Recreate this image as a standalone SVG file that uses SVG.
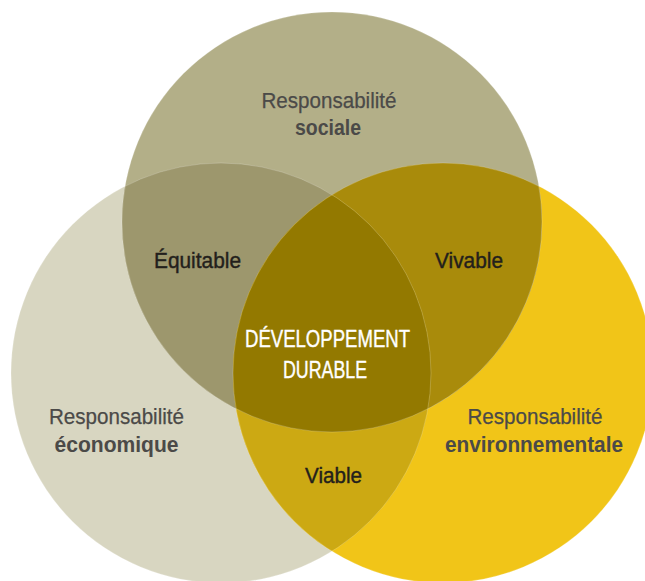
<svg xmlns="http://www.w3.org/2000/svg" width="645" height="581" viewBox="0 0 645 581">
<style>
text{font-family:"Liberation Sans",Arial,sans-serif;text-anchor:middle;}
.lbl{font-size:22px;fill:#4b4a48;stroke:#4b4a48;stroke-width:0.25;}
.b{font-weight:bold;stroke-width:0;}
.mid{font-size:22px;fill:#231f1c;stroke:#231f1c;stroke-width:0.4;}
.ctr{font-size:23px;fill:#ffffff;stroke:#ffffff;stroke-width:0.4;}
.edge{fill:none;stroke:#ffffff;stroke-opacity:0.25;stroke-width:0.8;}
</style>
<defs>
<clipPath id="cT"><circle cx="332" cy="222" r="210"/></clipPath>
<clipPath id="cL"><circle cx="221" cy="373" r="210"/></clipPath>
<clipPath id="cR"><circle cx="443" cy="373" r="210"/></clipPath>
</defs>
<rect width="645" height="581" fill="#ffffff"/>
<g id="economique">
<circle cx="221" cy="373" r="210" fill="#d8d6c1"/>
</g>
<g id="environnementale">
<circle cx="443" cy="373" r="210" fill="#f1c518"/>
</g>
<g id="sociale">
<circle cx="332" cy="222" r="210" fill="#b3af88"/>
</g>
<g id="equitable">
<circle cx="221" cy="373" r="210" fill="#9d976d" clip-path="url(#cT)"/>
</g>
<g id="vivable">
<circle cx="443" cy="373" r="210" fill="#a98b0b" clip-path="url(#cT)"/>
</g>
<g id="viable">
<circle cx="443" cy="373" r="210" fill="#cca913" clip-path="url(#cL)"/>
</g>
<g id="developpement-durable">
<g clip-path="url(#cT)">
<circle cx="443" cy="373" r="210" fill="#937900" clip-path="url(#cL)"/>
</g>
</g>
<g id="edges">
<circle class="edge" cx="332" cy="222" r="210"/>
<circle class="edge" cx="221" cy="373" r="210"/>
<circle class="edge" cx="443" cy="373" r="210"/>
</g>
<g id="labels">
<text class="lbl" x="329" y="108" textLength="135" lengthAdjust="spacingAndGlyphs">Responsabilité</text>
<text class="lbl b" x="328" y="135" textLength="66" lengthAdjust="spacingAndGlyphs">sociale</text>
<text class="lbl" x="116.5" y="424" textLength="135" lengthAdjust="spacingAndGlyphs">Responsabilité</text>
<text class="lbl b" x="116.5" y="452" textLength="124" lengthAdjust="spacingAndGlyphs">économique</text>
<text class="lbl" x="535" y="424" textLength="135" lengthAdjust="spacingAndGlyphs">Responsabilité</text>
<text class="lbl b" x="534" y="452" textLength="178" lengthAdjust="spacingAndGlyphs">environnementale</text>
<text class="mid" x="197.5" y="268" textLength="87" lengthAdjust="spacingAndGlyphs">Équitable</text>
<text class="mid" x="469" y="268" textLength="68" lengthAdjust="spacingAndGlyphs">Vivable</text>
<text class="mid" x="333.5" y="483" textLength="57" lengthAdjust="spacingAndGlyphs">Viable</text>
<text class="ctr" x="327.5" y="347" textLength="165" lengthAdjust="spacingAndGlyphs">DÉVELOPPEMENT</text>
<text class="ctr" x="325" y="378" textLength="84" lengthAdjust="spacingAndGlyphs">DURABLE</text>
</g>
</svg>
